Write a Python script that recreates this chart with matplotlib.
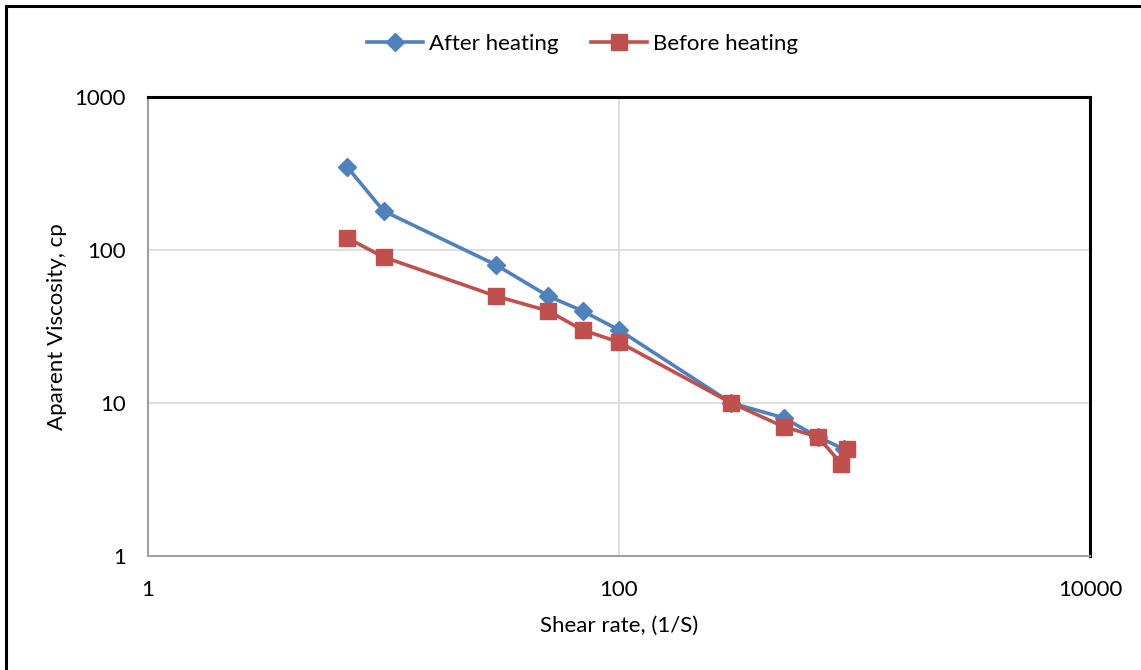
import matplotlib
matplotlib.use("Agg")
import matplotlib.pyplot as plt
from matplotlib.patches import Rectangle

plt.rcParams['font.family'] = ['Lato', 'DejaVu Sans']

shear_after = [7, 10, 30, 50, 70, 100, 300, 500, 700, 900]
visc_after = [350, 180, 80, 50, 40, 30, 10, 8, 6, 5]
shear_before = [7, 10, 30, 50, 70, 100, 300, 500, 700, 880, 930]
visc_before = [120, 90, 50, 40, 30, 25, 10, 7, 6, 4, 5]

x_ticks = [1, 100, 10000]
y_ticks = [1, 10, 100, 1000]

W, H = 1141, 670
fig = plt.figure(figsize=(W / 100, H / 100), dpi=100)
ax = fig.add_axes([148 / W, 1 - 556 / H, (1090 - 148) / W, (556 - 97) / H])

ax.plot(shear_after, visc_after, color='#4F81BD', lw=2.6, marker='D', ms=9,
        label='After heating', zorder=3)
ax.plot(shear_before, visc_before, color='#C0504D', lw=2.6, marker='s', ms=11,
        label='Before heating', zorder=4)

ax.set_xscale('log')
ax.set_yscale('log')
ax.set_xlim(1, 10000)
ax.set_ylim(1, 1000)
ax.set_xticks(x_ticks)
ax.set_xticklabels([str(t) for t in x_ticks])
ax.set_yticks(y_ticks)
ax.set_yticklabels([str(t) for t in y_ticks])
ax.minorticks_off()
ax.tick_params(axis='both', length=0, labelsize=16, colors='black')
ax.tick_params(axis='x', pad=17)
ax.tick_params(axis='y', pad=16)

ax.grid(True, which='major', color='#d9d9d9', lw=1.2, zorder=0)
ax.set_axisbelow(True)

for s in ['left', 'bottom']:
    ax.spines[s].set_color('#a0a0a0')
    ax.spines[s].set_linewidth(1.5)
for s in ['top', 'right']:
    ax.spines[s].set_color('black')
    ax.spines[s].set_linewidth(2.2)

ax.set_xlabel('Shear rate, (1/S)', fontsize=16, labelpad=12)
ax.set_ylabel('Aparent Viscosity, cp', fontsize=16, labelpad=5)

fig.legend(loc='center', bbox_to_anchor=(0.5 + 12 / W, 1 - 44 / H), ncol=2, frameon=False,
           fontsize=16, handlelength=2.5, columnspacing=1.5, handletextpad=0.25)

fig.patches.append(Rectangle((6 / W, -0.1), 1.2, 1 - 6 / H + 0.1, transform=fig.transFigure,
                             fill=False, edgecolor='black', lw=2.2, zorder=10))

fig.savefig('out.png', dpi=100, facecolor='white')
